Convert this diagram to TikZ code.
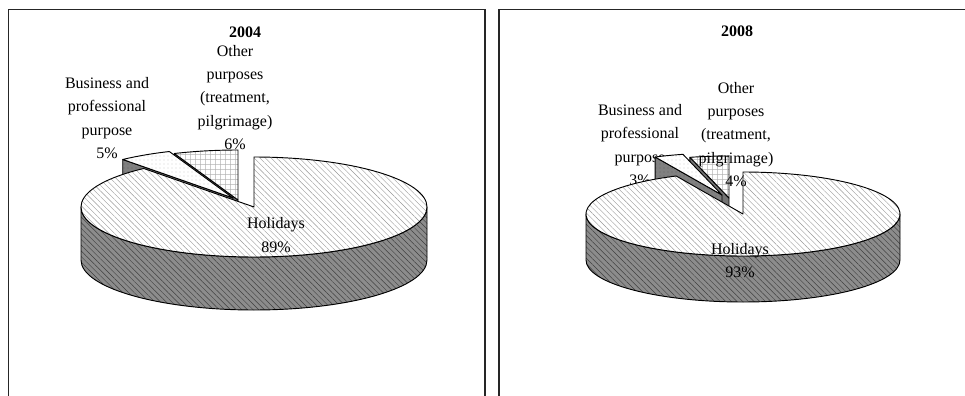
\documentclass[tikz,border=0pt]{standalone}
\usepackage{fontspec}
\setmainfont{Liberation Serif}
\usetikzlibrary{calc,patterns.meta}

\begin{document}
\begin{tikzpicture}[x=0.75pt,y=0.75pt,
    lbl/.style={align=center,inner sep=0pt,font=\fontsize{12}{17.6}\selectfont},
    ttl/.style={inner sep=0pt,font=\fontsize{12}{14}\selectfont\bfseries},
    frame/.style={line width=0.9pt,black!85},
    rimline/.style={line width=0.7pt,line join=round},
    holtop/.style={rimline,preaction={fill=white},pattern={Lines[angle=-45,distance=3pt,line width=0.3pt]},pattern color=black!40},
    holside/.style={rimline,preaction={fill=black!45},pattern={Lines[angle=-45,distance=3pt,line width=0.35pt]},pattern color=black!75},
    bustop/.style={rimline,preaction={fill=white},pattern={Dots[distance=3pt,radius=0.35pt]},pattern color=black!50},
    busside/.style={rimline,preaction={fill=black!50},pattern={Dots[distance=3pt,radius=0.35pt]},pattern color=black!80},
    othtop/.style={rimline,preaction={fill=white},pattern={Hatch[distance=4pt,line width=0.4pt]},pattern color=black!30},
    othside/.style={rimline,fill=black!55}]
  \useasboundingbox (0,0) rectangle (965,-396);
  % apex, start, end, x radius, y radius, depth, top style, side style
  \def\pslice#1#2#3#4#5#6#7#8{%
    \draw[#8] (#1) -- ++(#3:#4 and #5) -- ++(0,-#6) -- ($(#1)+(0,-#6)$) -- cycle;
    \draw[#7] (#1) -- ++(#2:#4 and #5) arc[start angle=#2,end angle=#3,x radius=#4,y radius=#5] -- cycle;}

  \draw[frame] (8.5,-396) -- (8.5,-9.5) -- (485,-9.5) -- (485,-396);
  \draw[frame] (499,-396) -- (499,-9.5) -- (965,-9.5);

  % 2004
  \node[ttl] (t2004) at (245,-32) {2004};
  \coordinate (hol04) at (254,-207);
  \coordinate (bus04) at (233,-198);
  \coordinate (oth04) at (238,-200);
  \pslice{oth04}{90}{111.6}{173}{50}{53}{othtop}{othside}
  \pslice{bus04}{111.6}{129.6}{173}{50}{53}{bustop}{busside}
  \draw[holside] ($(hol04)+(-173,0)$) arc[start angle=180,end angle=360,x radius=173,y radius=50]
    -- ++(0,-53) arc[start angle=360,end angle=180,x radius=173,y radius=50] -- cycle;
  \draw[holtop] (hol04) -- ++(129.6:173 and 50) arc[start angle=129.6,end angle=450,x radius=173,y radius=50] -- cycle;
  \node[lbl] (lbus04) at (107,-118) {Business and\\professional\\purpose\\5\%};
  \node[lbl] (loth04) at (235,-97.5) {Other\\purposes\\(treatment,\\pilgrimage)\\6\%};
  \node[lbl] (lhol04) at (276,-235) {Holidays\\89\%};

  % 2008
  \node[ttl] (t2008) at (737,-31) {2008};
  \coordinate (hol08) at (743,-214);
  \coordinate (bus08) at (722,-195);
  \coordinate (oth08) at (729,-198);
  \node[lbl] (lbus08) at (640,-145) {Business and\\professional\\purpose\\3\%};
  \pslice{oth08}{90}{104.4}{157}{42}{46}{othtop}{othside}
  \pslice{bus08}{104.4}{115.2}{157}{42}{46}{bustop}{busside}
  \draw[holside] ($(hol08)+(-157,0)$) arc[start angle=180,end angle=360,x radius=157,y radius=42]
    -- ++(0,-46) arc[start angle=360,end angle=180,x radius=157,y radius=42] -- cycle;
  \draw[holtop] (hol08) -- ++(115.2:157 and 42) arc[start angle=115.2,end angle=450,x radius=157,y radius=42] -- cycle;
  \node[lbl] (loth08) at (736,-134.5) {Other\\purposes\\(treatment,\\pilgrimage)\\4\%};
  \node[lbl] (lhol08) at (740,-260.5) {Holidays\\93\%};
\end{tikzpicture}
\end{document}
